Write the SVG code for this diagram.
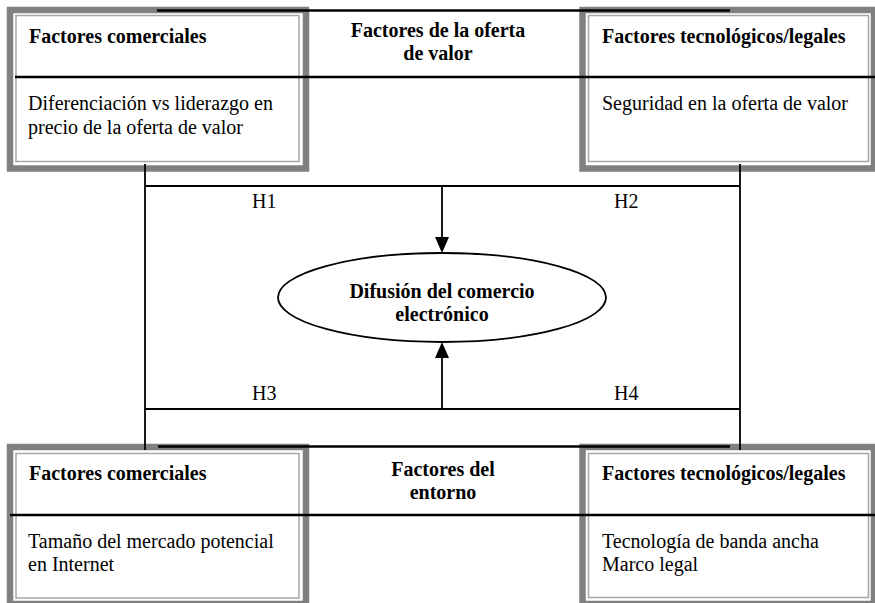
<svg xmlns="http://www.w3.org/2000/svg" width="875" height="603" viewBox="0 0 875 603">
<style>
  .outer { fill: none; stroke: #808080; stroke-width: 6.5; }
  .inner { fill: none; stroke: #a6a6a6; stroke-width: 1.5; }
  .hd { font-family: "Liberation Serif", "Times New Roman", serif; font-size: 20px; font-weight: bold; fill: #000; }
  .bd { font-family: "Liberation Serif", "Times New Roman", serif; font-size: 20px; fill: #000; }
  .sep { stroke: #000; stroke-width: 2.5; fill: none; }
  .ln { stroke: #000; stroke-width: 1.8; fill: none; }
</style>
<defs>
  <marker id="arr" viewBox="0 0 16 14" refX="14" refY="7" markerWidth="16" markerHeight="14" markerUnits="userSpaceOnUse" orient="auto">
    <path d="M0,0 L16,7 L0,14 z" fill="#000"/>
  </marker>
</defs>
<rect width="875" height="603" fill="#fff"/>

<g id="box-top-left">
  <rect class="outer" x="10" y="10" width="296" height="158.5"/>
  <rect class="inner" x="16" y="15.5" width="283" height="146"/>
  <text class="hd" x="29" y="43">Factores comerciales</text>
  <text class="bd" x="28" y="110">Diferenciación vs liderazgo en</text>
  <text class="bd" x="28" y="134">precio de la oferta de valor</text>
</g>

<g id="box-top-right">
  <rect class="outer" x="582.5" y="10" width="291.5" height="158.5"/>
  <rect class="inner" x="588.5" y="15.5" width="280" height="146"/>
  <text class="hd" x="602" y="43">Factores tecnológicos/legales</text>
  <text class="bd" x="602" y="110">Seguridad en la oferta de valor</text>
</g>

<g id="box-bottom-left">
  <rect class="outer" x="10" y="447" width="296" height="157"/>
  <rect class="inner" x="16" y="453.5" width="283" height="144.5"/>
  <text class="hd" x="29" y="480">Factores comerciales</text>
  <text class="bd" x="28" y="548">Tamaño del mercado potencial</text>
  <text class="bd" x="28" y="571">en Internet</text>
</g>

<g id="box-bottom-right">
  <rect class="outer" x="582.5" y="447" width="291.5" height="157"/>
  <rect class="inner" x="588.5" y="453.5" width="280" height="144"/>
  <text class="hd" x="602" y="480">Factores tecnológicos/legales</text>
  <text class="bd" x="602" y="548">Tecnología de banda ancha</text>
  <text class="bd" x="602" y="571">Marco legal</text>
</g>

<g id="header-top">
  <line class="sep" x1="157" y1="10.5" x2="730" y2="10.5"/>
  <line class="sep" x1="15" y1="77" x2="875" y2="77"/>
  <text class="hd" x="438" y="37" text-anchor="middle">Factores de la oferta</text>
  <text class="hd" x="438" y="60" text-anchor="middle">de valor</text>
</g>

<g id="header-bottom">
  <line class="sep" x1="158" y1="446.5" x2="730" y2="446.5"/>
  <line class="sep" x1="10" y1="515" x2="875" y2="515"/>
  <text class="hd" x="443" y="476" text-anchor="middle">Factores del</text>
  <text class="hd" x="443" y="499" text-anchor="middle">entorno</text>
</g>

<g id="center">
  <ellipse cx="442" cy="297.5" rx="164" ry="44.5" fill="#fff" stroke="#000" stroke-width="1.8"/>
  <text class="hd" x="442" y="298" text-anchor="middle">Difusión del comercio</text>
  <text class="hd" x="442" y="321" text-anchor="middle">electrónico</text>
</g>

<g id="connectors">
  <line class="ln" x1="145" y1="164" x2="145" y2="450"/>
  <line class="ln" x1="740" y1="164" x2="740" y2="450"/>
  <line class="ln" x1="145" y1="186" x2="740" y2="186"/>
  <line class="ln" x1="145" y1="409" x2="740" y2="409"/>
  <line class="ln" x1="442" y1="186" x2="442" y2="251" marker-end="url(#arr)"/>
  <line class="ln" x1="442" y1="409" x2="442" y2="344" marker-end="url(#arr)"/>
  <text class="bd" x="252" y="208">H1</text>
  <text class="bd" x="614" y="208">H2</text>
  <text class="bd" x="252" y="400">H3</text>
  <text class="bd" x="614" y="400">H4</text>
</g>
</svg>
